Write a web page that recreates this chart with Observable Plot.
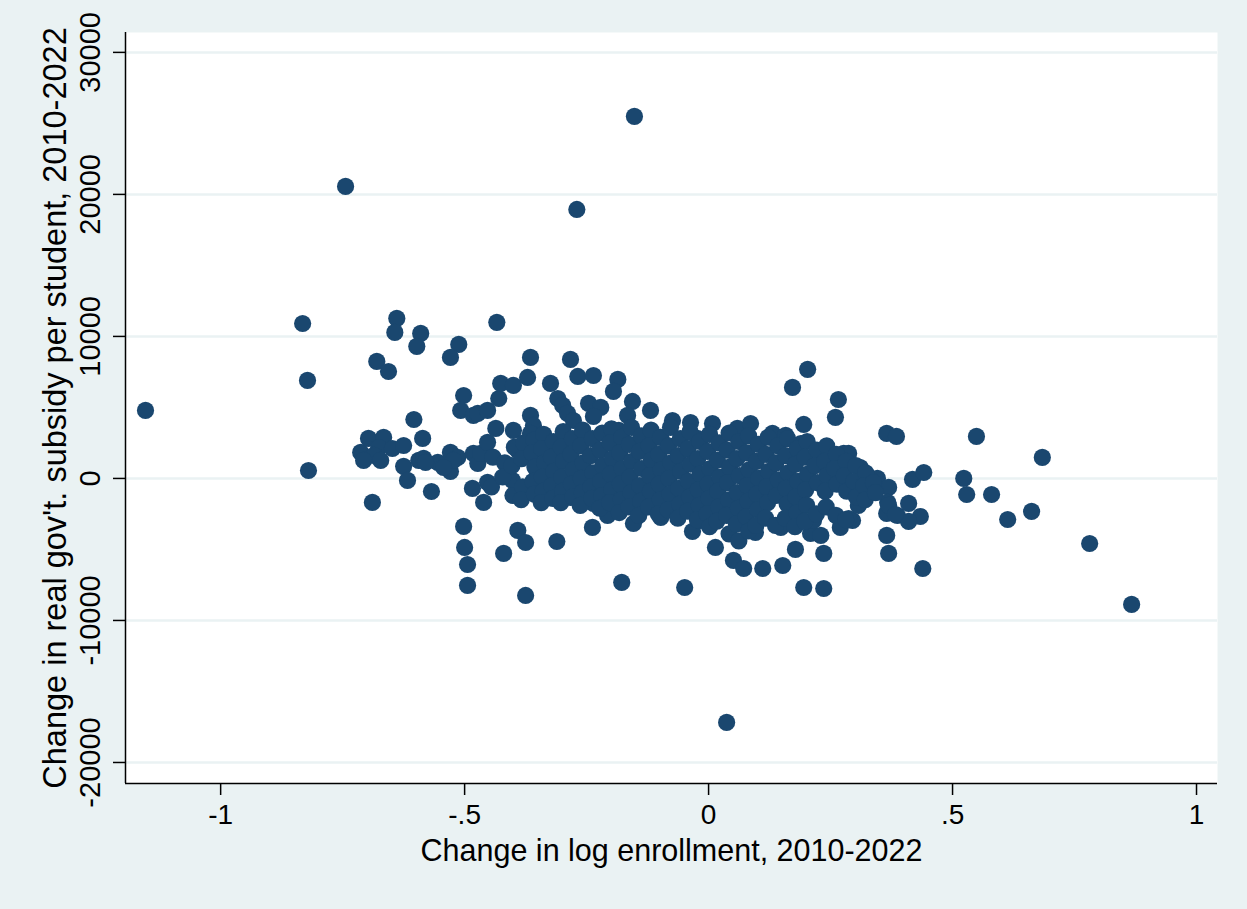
<!DOCTYPE html>
<html><head><meta charset="utf-8">
<script src="https://cdn.jsdelivr.net/npm/d3@7"></script>
<script src="https://cdn.jsdelivr.net/npm/@observablehq/plot@0.6"></script>
<style>
html,body{margin:0;padding:0;background:#EAF2F3;}
#chart{width:1247px;height:909px;}
</style></head><body><div id="chart"></div>
<script>
const xTicks = [-1, -0.5, 0, 0.5, 1];
const xTickLabels = ["-1", "-.5", "0", ".5", "1"];
const yTicks = [-20000, -10000, 0, 10000, 20000, 30000];
const yTickLabels = ["-20000", "-10000", "0", "10000", "20000", "30000"];
const xTitle = "Change in log enrollment, 2010-2022";
const yTitle = "Change in real gov't. subsidy per student, 2010-2022";

const outliers = [
  [-1.154, 4790], [-0.744, 20560], [-0.152, 25490], [-0.270, 18940], [0.037, -17180],
  [0.867, -8870], [0.781, -4580], [0.684, 1480], [0.662, -2320], [0.613, -2890],
  [0.580, -1130], [0.549, 2960], [0.529, -1130], [0.523, 0]
];
const leftGroup = [
  [-0.832, 10910], [-0.822, 6900], [-0.820, 560], [-0.689, -1690], [-0.639, 11270], [-0.643, 10280],
  [-0.680, 8240], [-0.656, 7530], [-0.590, 10210], [-0.598, 9300], [-0.512, 9440], [-0.529, 8520],
  [-0.434, 10990], [-0.604, 4150], [-0.586, 2820], [-0.713, 1830], [-0.697, 2820], [-0.666, 2890],
  [-0.676, 2180], [-0.686, 1620], [-0.707, 1270], [-0.672, 1270], [-0.648, 2110], [-0.625, 2320],
  [-0.625, 850], [-0.617, -140], [-0.594, 1270], [-0.584, 1410], [-0.555, 1130], [-0.529, 1830],
  [-0.514, 1480], [-0.529, 490], [-0.568, -920], [-0.523, 1270], [-0.543, 770], [-0.580, 1130],
  [-0.502, 5840], [-0.508, 4790], [-0.482, 4440], [-0.473, 4580], [-0.453, 4790], [-0.430, 5630],
  [-0.482, 1760], [-0.473, 1060], [-0.467, 1760], [-0.453, 2540], [-0.453, -280], [-0.484, -700],
  [-0.461, -1690], [-0.502, -3380], [-0.500, -4860], [-0.494, -6060], [-0.494, -7530]
];
const upperGroup = [
  [-0.426, 6690], [-0.400, 6550], [-0.371, 7110], [-0.365, 8520], [-0.365, 4440], [-0.359, 3730],
  [-0.365, 3170], [-0.400, 3380], [-0.436, 3520], [-0.391, 1970], [-0.283, 8380], [-0.268, 7180],
  [-0.236, 7250], [-0.324, 6690], [-0.186, 6970], [-0.195, 6130], [-0.309, 5630], [-0.299, 5140],
  [-0.289, 4580], [-0.246, 5280], [-0.221, 5000], [-0.236, 4370], [-0.156, 5420], [-0.119, 4790],
  [-0.277, 4080], [-0.166, 4440], [-0.184, 3380], [-0.074, 4080], [-0.037, 3940], [0.008, 3870],
  [-0.023, 2820], [-0.098, 2890], [-0.139, 2460], [0.059, 3520], [0.086, 3870], [0.131, 3170],
  [0.158, 3030], [0.189, 2460], [0.203, 7680], [0.172, 6410], [0.266, 5560], [0.260, 4300],
  [0.195, 3800], [0.277, 1760], [0.287, 1760], [0.311, 770], [0.346, 0], [0.369, -630],
  [0.365, 3170], [0.385, 2960]
];
const lowerGroup = [
  [-0.375, -8240], [-0.420, -5280], [-0.391, -3660], [-0.375, -4510], [-0.311, -4440], [-0.238, -3450],
  [-0.178, -7320], [-0.049, -7680], [-0.207, -2610], [-0.154, -3170], [-0.098, -2750], [-0.033, -3730],
  [0.014, -4860], [0.051, -5770], [0.072, -6340], [0.111, -6340], [0.152, -6130], [0.178, -5000],
  [0.236, -5280], [0.195, -7680], [0.236, -7750], [0.096, -3800], [0.148, -3450], [0.209, -3870],
  [0.270, -3450], [0.295, -2960], [-0.016, -2960], [0.215, -2960], [0.230, -4010], [0.287, -2820],
  [-0.283, -1340], [-0.236, -1760], [-0.350, -1200], [-0.361, -630], [-0.402, -140]
];
const rightGroup = [
  [0.367, -1690], [0.365, -2460], [0.387, -2610], [0.434, -2680], [0.410, -1760], [0.410, -3030],
  [0.365, -4010], [0.369, -5280], [0.439, -6340], [0.418, -70], [0.441, 420], [0.369, -1900],
  [0.383, -2540], [0.332, -140], [0.322, -850], [0.307, -1900]
];
const coreGroup = [
  [-0.442, 1500], [-0.445, -600],
  [-0.418, 1100], [-0.422, 100],
  [-0.398, 2200], [-0.403, 900], [-0.401, -1200],
  [-0.379, 2500], [-0.383, 1400], [-0.381, -600], [-0.384, -1500],
  [-0.358, 2700], [-0.362, 1800], [-0.356, 800], [-0.360, -200], [-0.357, -1100],
  [-0.338, 3100], [-0.342, 2100], [-0.336, 1100], [-0.341, 100], [-0.339, -900], [-0.343, -1700],
  [-0.318, 2600], [-0.322, 1500], [-0.317, 500], [-0.321, -500], [-0.319, -1400],
  [-0.298, 3300], [-0.302, 2200], [-0.297, 1200], [-0.301, 100], [-0.299, -900], [-0.303, -1700],
  [-0.279, 2800], [-0.282, 1700], [-0.277, 600], [-0.281, -400], [-0.278, -1300],
  [-0.258, 3400], [-0.262, 2300], [-0.257, 1100], [-0.261, 0], [-0.259, -1000], [-0.263, -1900],
  [-0.238, 2800], [-0.242, 1600], [-0.237, 400], [-0.241, -600], [-0.239, -1400],
  [-0.218, 3200], [-0.222, 2000], [-0.217, 900], [-0.221, -200], [-0.219, -1200], [-0.223, -2100],
  [-0.199, 3500], [-0.202, 2500], [-0.197, 1400], [-0.201, 300], [-0.198, -800], [-0.203, -1700],
  [-0.178, 2900], [-0.182, 1800], [-0.177, 700], [-0.181, -400], [-0.179, -1500], [-0.183, -2400],
  [-0.158, 3600], [-0.162, 2400], [-0.157, 1200], [-0.161, 100], [-0.159, -1000], [-0.163, -2000],
  [-0.138, 3000], [-0.142, 1900], [-0.137, 700], [-0.141, -500], [-0.139, -1600], [-0.143, -2600],
  [-0.118, 3400], [-0.122, 2300], [-0.117, 1300], [-0.121, 200], [-0.119, -900], [-0.123, -2000],
  [-0.098, 2900], [-0.102, 1700], [-0.097, 600], [-0.101, -400], [-0.099, -1500], [-0.103, -2500],
  [-0.078, 3600], [-0.082, 2300], [-0.077, 1100], [-0.081, 0], [-0.079, -1100], [-0.083, -2200],
  [-0.058, 2800], [-0.062, 1600], [-0.057, 500], [-0.061, -700], [-0.059, -1800], [-0.063, -2800],
  [-0.038, 3300], [-0.042, 2100], [-0.037, 1000], [-0.041, -200], [-0.039, -1300], [-0.043, -2300],
  [-0.018, 2600], [-0.022, 1400], [-0.017, 300], [-0.021, -800], [-0.019, -1900], [-0.023, -2900],
  [0.002, 3100], [-0.002, 1900], [0.003, 700], [-0.001, -400], [0.001, -1400], [-0.003, -2500], [0.002, -3400],
  [0.022, 2500], [0.018, 1300], [0.023, 100], [0.019, -900], [0.021, -2000], [0.017, -3000],
  [0.042, 3200], [0.038, 2000], [0.043, 800], [0.039, -300], [0.041, -1500], [0.037, -2600], [0.042, -3900],
  [0.062, 2600], [0.058, 1400], [0.063, 200], [0.059, -1000], [0.061, -2100], [0.057, -3200], [0.062, -4400],
  [0.082, 3000], [0.078, 1800], [0.083, 600], [0.079, -500], [0.081, -1600], [0.077, -2700], [0.082, -3700],
  [0.102, 2400], [0.098, 1200], [0.103, 0], [0.099, -1100], [0.101, -2200], [0.097, -3300],
  [0.122, 2900], [0.118, 1700], [0.123, 500], [0.119, -600], [0.121, -1700], [0.117, -2800],
  [0.142, 2300], [0.138, 1100], [0.143, -100], [0.139, -1200], [0.137, -3300],
  [0.162, 2800], [0.158, 1600], [0.163, 400], [0.159, -700], [0.161, -1800], [0.157, -2800],
  [0.182, 2100], [0.178, 1000], [0.183, -200], [0.179, -1300], [0.181, -2400], [0.177, -3400],
  [0.202, 2600], [0.198, 1500], [0.203, 300], [0.199, -800], [0.201, -1900], [0.197, -3000],
  [0.222, 2000], [0.218, 900], [0.223, -300], [0.221, -2500],
  [0.242, 2300], [0.238, 1200], [0.243, 200], [0.239, -900], [0.241, -2000],
  [0.262, 1700], [0.258, 700], [0.263, -400], [0.261, -2600],
  [0.282, 1200], [0.278, 200], [0.283, -900], [0.281, -2900],
  [0.302, 900], [0.298, -200], [0.303, -1300],
  [0.322, 400], [0.318, -500], [0.321, -1500],
  [0.338, -300], [0.342, -1000]
];

const points = [...outliers, ...leftGroup, ...upperGroup, ...lowerGroup, ...rightGroup, ...coreGroup]
  .map(([x, y]) => ({x, y}));

const xDomain = [-1.195, 1.043];
const yDomain = [-21480, 31400];
const font = "'Liberation Sans', Arimo, Arial, Helvetica, sans-serif";
const ink = "#000000";

const chart = Plot.plot({
  width: 1247,
  height: 909,
  marginLeft: 125,
  marginRight: 30,
  marginTop: 32,
  marginBottom: 126,
  style: {background: "#EAF2F3", fontFamily: font, color: ink},
  x: {domain: xDomain},
  y: {domain: yDomain},
  marks: [
    Plot.frame({fill: "white", stroke: "none"}),
    Plot.gridY(yTicks, {stroke: "#EAF2F3", strokeOpacity: 1, strokeWidth: 2.5}),
    Plot.dot(points, {x: "x", y: "y", r: 8.6, fill: "#1A476F", stroke: "none"}),
    Plot.ruleX([xDomain[0]], {stroke: ink, strokeWidth: 1.5}),
    Plot.ruleY([yDomain[0]], {stroke: ink, strokeWidth: 1.5}),
    Plot.axisX(xTicks, {
      tickSize: 12, tickPadding: 9, fontSize: 28, stroke: ink, strokeWidth: 1.5,
      tickFormat: d => xTickLabels[xTicks.indexOf(d)], label: null
    }),
    Plot.axisY(yTicks, {
      tickSize: 12, tickPadding: 14, tickRotate: -90, fontSize: 29, stroke: ink, strokeWidth: 1.5,
      tickFormat: d => yTickLabels[yTicks.indexOf(d)], label: null
    }),
    Plot.text([xTitle], {frameAnchor: "bottom", dy: 77, fontSize: 30.5, fill: ink}),
    Plot.text([yTitle], {frameAnchor: "left", textAnchor: "middle", rotate: -90, dx: -70, fontSize: 32.5, fill: ink})
  ]
});
document.getElementById("chart").appendChild(chart);
</script>
</body></html>
